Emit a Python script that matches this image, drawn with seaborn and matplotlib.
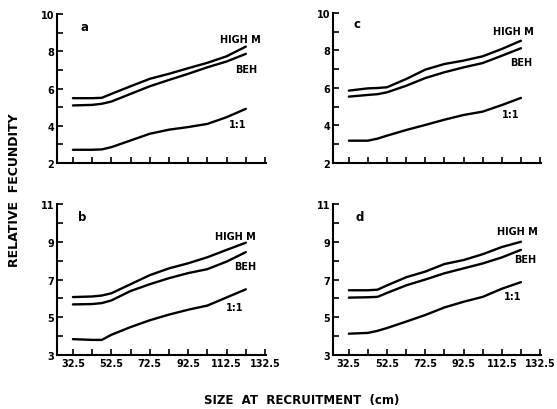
import matplotlib
matplotlib.use('Agg')
import matplotlib.pyplot as plt
import seaborn as sns
import pandas as pd

# size at recruitment (cm)
size_cm = [32.5, 42.5, 47.5, 52.5, 62.5, 72.5, 82.5, 92.5, 102.5, 112.5, 122.5]

a_high_m = [5.48, 5.48, 5.50, 5.71, 6.12, 6.52, 6.79, 7.09, 7.38, 7.73, 8.25]
a_beh = [5.09, 5.12, 5.18, 5.30, 5.71, 6.12, 6.46, 6.79, 7.14, 7.45, 7.86]
a_one = [2.71, 2.71, 2.73, 2.85, 3.21, 3.57, 3.79, 3.93, 4.10, 4.46, 4.91]

b_high_m = [6.07, 6.10, 6.15, 6.27, 6.75, 7.23, 7.59, 7.86, 8.18, 8.57, 8.95]
b_beh = [5.68, 5.70, 5.75, 5.89, 6.39, 6.75, 7.07, 7.34, 7.55, 7.95, 8.45]
b_one = [3.84, 3.80, 3.80, 4.07, 4.48, 4.84, 5.14, 5.40, 5.62, 6.05, 6.48]

c_high_m = [5.86, 5.98, 6.00, 6.04, 6.48, 6.98, 7.28, 7.46, 7.69, 8.08, 8.52]
c_beh = [5.54, 5.63, 5.67, 5.77, 6.12, 6.53, 6.84, 7.10, 7.33, 7.72, 8.12]
c_one = [3.19, 3.19, 3.30, 3.46, 3.76, 4.03, 4.31, 4.56, 4.74, 5.09, 5.47]

d_high_m = [6.43, 6.43, 6.46, 6.69, 7.12, 7.42, 7.82, 8.03, 8.34, 8.72, 9.00]
d_beh = [6.04, 6.06, 6.08, 6.29, 6.69, 7.00, 7.33, 7.59, 7.85, 8.17, 8.57]
d_one = [4.13, 4.17, 4.28, 4.43, 4.77, 5.12, 5.52, 5.82, 6.08, 6.51, 6.86]

series_names = ['HIGH M', 'BEH', '1:1']

x_major = [32.5, 52.5, 72.5, 92.5, 112.5, 132.5]
x_major_labels = ['32.5', '52.5', '72.5', '92.5', '112.5', '132.5']
x_minor = [42.5, 62.5, 82.5, 102.5, 122.5]

y_major_low = [2, 4, 6, 8, 10]
y_minor_low = [3, 5, 7, 9]
y_major_high = [3, 5, 7, 9, 11]
y_minor_high = [4, 6, 8, 10]

panels = {
    'a': dict(lines=[a_high_m, a_beh, a_one], ylim=(2, 10), yt=(y_major_low, y_minor_low),
              pos=[0.1023, 0.600, 0.3753, 0.3634], xlab=False,
              tags=[(119.5, 8.66), (122.6, 7.05), (118.4, 4.09)], letter=(0.134, 0.913)),
    'b': dict(lines=[b_high_m, b_beh, b_one], ylim=(3, 11), yt=(y_major_high, y_minor_high),
              pos=[0.1023, 0.1317, 0.3753, 0.3683], xlab=True,
              tags=[(116.9, 9.30), (122.1, 7.72), (116.9, 5.54)], letter=(0.12, 0.92)),
    'c': dict(lines=[c_high_m, c_beh, c_one], ylim=(2, 10), yt=(y_major_low, y_minor_low),
              pos=[0.5978, 0.600, 0.3735, 0.3659], xlab=False,
              tags=[(118.5, 9.04), (122.6, 7.39), (117.0, 4.61)], letter=(0.114, 0.927)),
    'd': dict(lines=[d_high_m, d_beh, d_one], ylim=(3, 11), yt=(y_major_high, y_minor_high),
              pos=[0.5978, 0.1317, 0.3735, 0.3683], xlab=True,
              tags=[(120.6, 9.57), (124.7, 8.09), (118.0, 6.13)], letter=(0.129, 0.914)),
}

sns.set_theme(style='ticks')
plt.rcParams['font.family'] = ['DejaVu Sans']
plt.rcParams['font.weight'] = 'bold'
plt.rcParams['text.color'] = 'black'
plt.rcParams['xtick.color'] = 'black'
plt.rcParams['ytick.color'] = 'black'
plt.rcParams['xtick.labelcolor'] = 'black'
plt.rcParams['ytick.labelcolor'] = 'black'

fig = plt.figure(figsize=(5.57, 4.10), dpi=100)

for letter, p in panels.items():
    ax = fig.add_axes(p['pos'])
    df = pd.concat([
        pd.DataFrame({'size': size_cm, 'fecundity': vals, 'series': name})
        for name, vals in zip(series_names, p['lines'])
    ])
    sns.lineplot(data=df, x='size', y='fecundity', hue='series', palette=['black'] * 3,
                 linewidth=1.7, legend=False, ax=ax)
    ax.set_xlim(24.2, 133)
    ax.set_ylim(*p['ylim'])
    ax.set_xticks(x_major)
    ax.set_xticks(x_minor, minor=True)
    ax.set_yticks(p['yt'][0])
    ax.set_yticks(p['yt'][1], minor=True)
    if p['xlab']:
        ax.set_xticklabels(x_major_labels)
    else:
        ax.set_xticklabels([])
    ax.tick_params(which='both', direction='in', length=4, width=1.2, color='black',
                   labelsize=7, pad=2, labelcolor='black')
    for lab in ax.get_xticklabels() + ax.get_yticklabels():
        lab.set_fontweight('bold')
    for s in ['top', 'right']:
        ax.spines[s].set_visible(False)
    for s in ['left', 'bottom']:
        ax.spines[s].set_linewidth(1.5)
        ax.spines[s].set_color('black')
    ax.set_xlabel('')
    ax.set_ylabel('')
    ax.set_facecolor('none')

    tag_names = ['HIGH M', 'BEH', '1:1']
    for name, (tx, ty) in zip(tag_names, p['tags']):
        ax.text(tx, ty, name, ha='center', va='center', fontsize=7, fontweight='bold',
                color='black')
    ax.text(p['letter'][0], p['letter'][1], letter, transform=ax.transAxes,
            ha='center', va='center', fontsize=8.5, fontweight='bold', color='black')

fig.text(15 / 557, 1 - 190 / 410, 'RELATIVE  FECUNDITY', rotation=90, ha='center',
         va='center', fontsize=9, fontweight='bold', color='black')
fig.text(302 / 557, 1 - 401 / 410, 'SIZE  AT  RECRUITMENT  (cm)', ha='center',
         va='center', fontsize=8.5, fontweight='bold', color='black')

fig.savefig('out.png', dpi=100)
